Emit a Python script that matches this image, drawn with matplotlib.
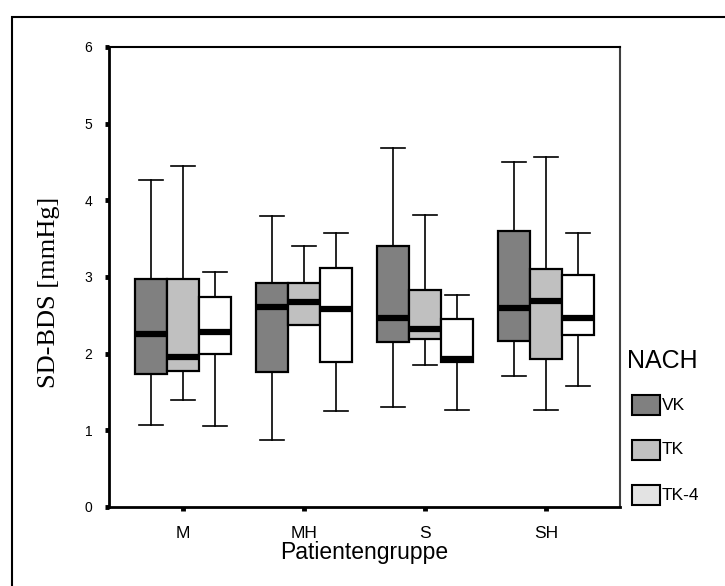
import matplotlib
matplotlib.use("Agg")
import matplotlib.pyplot as plt
from matplotlib.patches import Rectangle

# groups and series
groups = ["M", "MH", "S", "SH"]
series = ["VK", "TK", "TK-4"]
box_colors = ["#808080", "#c0c0c0", "#ffffff"]
legend_colors = ["#808080", "#c0c0c0", "#e3e3e3"]

# box stats, per series, per group
whislo = {"VK": [1.07, 0.88, 1.31, 1.71],
          "TK": [1.40, 2.37, 1.85, 1.26],
          "TK-4": [1.06, 1.25, 1.26, 1.58]}
q1 = {"VK": [1.73, 1.76, 2.15, 2.17],
      "TK": [1.77, 2.37, 2.19, 1.93],
      "TK-4": [1.99, 1.89, 1.89, 2.24]}
med = {"VK": [2.26, 2.61, 2.46, 2.59],
       "TK": [1.96, 2.68, 2.32, 2.69],
       "TK-4": [2.28, 2.58, 1.93, 2.47]}
q3 = {"VK": [2.98, 2.92, 3.41, 3.60],
      "TK": [2.97, 2.92, 2.83, 3.10],
      "TK-4": [2.74, 3.12, 2.45, 3.02]}
whishi = {"VK": [4.26, 3.80, 4.68, 4.50],
          "TK": [4.45, 3.41, 3.81, 4.57],
          "TK-4": [3.06, 3.57, 2.77, 3.57]}

plt.rcParams['font.family'] = ['Liberation Sans', 'DejaVu Sans']

fig = plt.figure(figsize=(7.25, 5.86), dpi=100)
ax = fig.add_axes([109/725, 1 - 507/586, (620-109)/725, (507-47)/586])

w = 0.265
for i, s in enumerate(series):
    stats = []
    for j in range(len(groups)):
        stats.append(dict(whislo=whislo[s][j], q1=q1[s][j], med=med[s][j],
                          q3=q3[s][j], whishi=whishi[s][j], fliers=[]))
    pos = [j + 1 + (i - 1) * w for j in range(len(groups))]
    ax.bxp(stats, positions=pos, widths=w, capwidths=0.2, patch_artist=True,
           showfliers=False, manage_ticks=False,
           boxprops=dict(facecolor=box_colors[i], edgecolor="black", linewidth=1.6),
           medianprops=dict(color="black", linewidth=4.5, solid_capstyle="butt"),
           whiskerprops=dict(color="black", linewidth=1.2),
           capprops=dict(color="black", linewidth=1.2))

ax.set_xlim(0.387, 4.613)
ax.set_ylim(0, 6)
ax.set_xticks(range(1, 5))
ax.set_xticklabels(groups, fontsize=12.5)
ax.set_yticks(range(0, 7))
ax.tick_params(axis="y", direction="out", length=3, width=3.5, pad=9, labelsize=10)
ax.tick_params(axis="x", direction="out", length=3, width=3.5, pad=11)
for side in ["left", "bottom"]:
    ax.spines[side].set_linewidth(2)
ax.spines["top"].set_linewidth(1.5)
ax.spines["right"].set_linewidth(1.5)
ax.spines["right"].set_color("#404040")

fig.text(364/725, 1 - 553/586, "Patientengruppe", fontsize=16.5, ha="center", va="center")
fig.text(49/725, 1 - 292/586, "SD-BDS [mmHg]", rotation=90, ha="center", va="center",
         fontsize=19, family=["Liberation Serif", "DejaVu Serif"])

# legend drawn by hand
fig.text(627/725, 1 - 361/586, "NACH", fontsize=18, ha="left", va="center")
for k, s in enumerate(series):
    y0 = 395 + k * 45
    fig.add_artist(Rectangle((632/725, 1 - (y0 + 20)/586), 28/725, 20/586,
                             facecolor=legend_colors[k], edgecolor="black",
                             linewidth=1.5, transform=fig.transFigure))
    fig.text(662/725, 1 - (y0 + 10)/586, s, fontsize=12.5, ha="left", va="center")

# outer frame
fig.add_artist(Rectangle((12/725, -0.05), 1.1, 1 - 17/586 + 0.05, fill=False,
                         edgecolor="black", linewidth=1.5, transform=fig.transFigure))

fig.savefig("out.png", dpi=100)
